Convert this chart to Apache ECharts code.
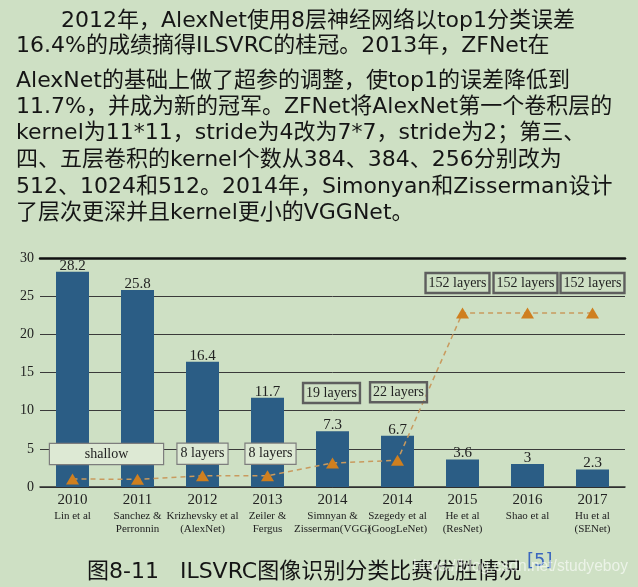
<!DOCTYPE html>
<html>
<head>
<meta charset="utf-8">
<script src="https://cdn.jsdelivr.net/npm/echarts@6/dist/echarts.min.js"></script>
<style>
  html, body { margin: 0; padding: 0; background: #cee0c4; }
  #chart { width: 638px; height: 587px; }
</style>
</head>
<body>
<div id="chart"></div>
<script>
// ---- data ----
const years = ['2010', '2011', '2012', '2013', '2014', '2014', '2015', '2016', '2017'];
const authors = ['Lin et al', 'Sanchez &\nPerronnin', 'Krizhevsky et al\n(AlexNet)', 'Zeiler &\nFergus',
  'Simnyan &\nZisserman(VGG)', 'Szegedy et al\n(GoogLeNet)', 'He et al\n(ResNet)', 'Shao et al', 'Hu et al\n(SENet)'];
const top1Error = [28.2, 25.8, 16.4, 11.7, 7.3, 6.7, 3.6, 3, 2.3];
const depthMarker = [1.05, 1.0, 1.48, 1.48, 3.14, 3.5, 22.8, 22.8, 22.8];
const depthLabels = ['shallow', '', '8 layers', '8 layers', '19 layers', '22 layers', '152 layers', '152 layers', '152 layers'];
const yMin = 0, yMax = 30, yStep = 5;

const paragraphLines = [
  '2012年，AlexNet使用8层神经网络以top1分类误差',
  '16.4%的成绩摘得ILSVRC的桂冠。2013年，ZFNet在',
  'AlexNet的基础上做了超参的调整，使top1的误差降低到',
  '11.7%，并成为新的冠军。ZFNet将AlexNet第一个卷积层的',
  'kernel为11*11，stride为4改为7*7，stride为2；第三、',
  '四、五层卷积的kernel个数从384、384、256分别改为',
  '512、1024和512。2014年，Simonyan和Zisserman设计',
  '了层次更深并且kernel更小的VGGNet。'
];
const captionText = '图8-11   ILSVRC图像识别分类比赛优胜情况';
const captionRef = '[5]';
const watermark = 'https://blog.csdn.net/studyeboy';

// ---- styles (layout only) ----
const SERIF = '"Liberation Serif", "Times New Roman", serif';
const SANS = '"DejaVu Sans", "Noto Sans CJK SC", sans-serif';
const paraX = [61, 16, 16, 16, 16, 16, 16, 16];
const paraY = [21, 46, 81, 107, 133, 160, 187, 213];
const labelOffsets = [[34, -25], [0, 0], [0, -22], [3, -22], [-1, -70], [1, -68], [-5, -30], [-2, -30], [0, -30]];

const categories = years.map((y, i) => y + ' ' + authors[i]);

const chart = echarts.init(document.getElementById('chart'), null, { renderer: 'canvas' });

const lineData = depthMarker.map((v, i) => {
  const txt = depthLabels[i];
  const lowGroup = i < 4;
  return {
    value: v,
    label: {
      show: txt !== '',
      position: 'inside',
      offset: labelOffsets[i],
      formatter: txt,
      fontFamily: SERIF,
      fontSize: 14,
      lineHeight: 16,
      color: '#222',
      width: i === 0 ? 107 : undefined,
      align: 'center',
      padding: [2, 3],
      backgroundColor: lowGroup ? '#dde9d4' : 'transparent',
      borderColor: lowGroup ? '#7d7d7d' : '#5e5e5e',
      borderWidth: 1.2
    }
  };
});

const graphics = paragraphLines.map((t, i) => ({
  type: 'text', x: paraX[i], y: paraY[i], z: 10,
  style: { text: t, font: '22px ' + SANS, fill: '#151515', verticalAlign: 'middle', textVerticalAlign: 'middle' }
}));
graphics.push({
  type: 'text', x: 87, y: 572, z: 10,
  style: { text: captionText, font: '22px ' + SANS, fill: '#151515', verticalAlign: 'middle', textVerticalAlign: 'middle' }
});
graphics.push({
  type: 'text', x: 527, y: 561, z: 10,
  style: { text: captionRef, font: '18px ' + SANS, fill: '#3a66be', verticalAlign: 'middle', textVerticalAlign: 'middle' }
});
graphics.push({
  type: 'text', x: 413, y: 567, z: 11,
  style: { text: watermark, font: '15.6px "Liberation Sans", Arial, sans-serif', fill: 'rgba(255,255,255,0.6)', verticalAlign: 'middle', textVerticalAlign: 'middle' }
});

chart.setOption({
  backgroundColor: '#cee0c4',
  animation: false,
  grid: { left: 40, right: 13, top: 258, bottom: 100 },
  xAxis: [{
    type: 'category',
    data: categories,
    boundaryGap: true,
    axisLine: { lineStyle: { color: '#2e2e2e', width: 1.5 } },
    axisTick: { show: false },
    axisLabel: {
      interval: 0,
      margin: 3,
      formatter: (val, idx) => '{y|' + years[idx] + '}\n' + authors[idx].split('\n').map(s => '{a|' + s + '}').join('\n'),
      rich: {
        y: { fontFamily: SERIF, fontSize: 15, lineHeight: 20, color: '#222' },
        a: { fontFamily: SERIF, fontSize: 11, lineHeight: 12.5, color: '#222' }
      }
    }
  }, {
    type: 'category',
    position: 'top',
    data: categories,
    axisLine: { lineStyle: { color: '#111', width: 2.5 } },
    axisTick: { show: false },
    axisLabel: { show: false }
  }],
  yAxis: {
    type: 'value',
    min: yMin, max: yMax, interval: yStep,
    axisLine: { show: false },
    axisTick: { show: false },
    axisLabel: { fontFamily: SERIF, fontSize: 14, color: '#222', margin: 6 },
    splitLine: { lineStyle: { color: '#3a3a3a', width: 1 } }
  },
  graphic: graphics,
  series: [{
    type: 'bar',
    data: top1Error,
    barWidth: 33,
    itemStyle: { color: '#2b5d85' },
    label: { show: true, position: 'top', distance: -1.5, fontFamily: SERIF, fontSize: 15, color: '#222' }
  }, {
    type: 'line',
    data: lineData,
    symbol: 'triangle',
    symbolSize: [13, 11],
    itemStyle: { color: '#cf7f1f' },
    lineStyle: { color: '#c99a5e', width: 1.5, type: [5, 4] },
    z: 5
  }]
});
</script>
</body>
</html>
